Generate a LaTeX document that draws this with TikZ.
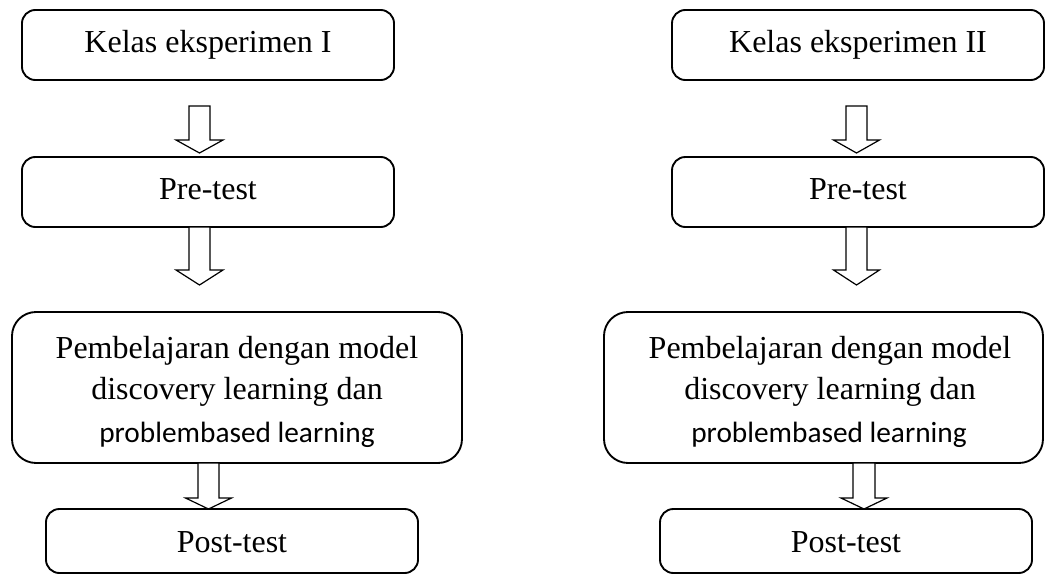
\documentclass[tikz,border=0pt]{standalone}
\usepackage{fontspec}
\setmainfont{Liberation Serif}
\newfontfamily\calib{Carlito}
\begin{document}
\begin{tikzpicture}[x=0.75pt,y=-0.75pt,
  box/.style={draw=black,line width=1.4pt,rounded corners=10pt,inner sep=0pt,outer sep=0pt},
  bigbox/.style={box,rounded corners=18pt},
  lbl/.style={anchor=base,inner sep=0pt,font=\fontsize{24pt}{28pt}\selectfont},
  lblc/.style={anchor=base,inner sep=0pt,font=\calib\fontsize{22pt}{26pt}\selectfont},
  barrow/.style={draw=black,line width=0.9pt,fill=white,line join=miter}]
\useasboundingbox (0,0) rectangle (1046,575);
\newcommand{\blockarrow}[6]{%
  \draw[barrow] ({#1-#5},#2) -- ({#1-#5},#3) -- ({#1-#6},#3) -- (#1,#4)
    -- ({#1+#6},#3) -- ({#1+#5},#3) -- ({#1+#5},#2) -- cycle;}
% left column boxes
\node[box,minimum width=372*0.75pt,minimum height=70*0.75pt] (b1l) at (208,45) {};
\node[box,minimum width=372*0.75pt,minimum height=70*0.75pt] (b2l) at (208,192) {};
\node[bigbox,minimum width=450*0.75pt,minimum height=151*0.75pt] (b3l) at (237,387.5) {};
\node[box,minimum width=372*0.75pt,minimum height=64*0.75pt] (b4l) at (232,541) {};
% right column boxes
\node[box,minimum width=372*0.75pt,minimum height=70*0.75pt] (b1r) at (858,45) {};
\node[box,minimum width=372*0.75pt,minimum height=70*0.75pt] (b2r) at (858,192) {};
\node[bigbox,minimum width=439*0.75pt,minimum height=151*0.75pt] (b3r) at (823.5,387.5) {};
\node[box,minimum width=372*0.75pt,minimum height=64*0.75pt] (b4r) at (846,541) {};
% arrows
\blockarrow{199.5}{106}{140}{153}{10.5}{23.5}
\blockarrow{199.5}{227}{270}{285}{10.5}{23.5}
\blockarrow{208.5}{463}{498}{509}{10.5}{23}
\blockarrow{856.5}{106}{140}{153}{10.5}{23}
\blockarrow{856.5}{227}{270}{285}{10.5}{23}
\blockarrow{864}{463}{498}{509}{11}{23}
% texts left
\node[lbl] (t1l) at (208,52) {Kelas eksperimen I};
\node[lbl] (t2l) at (208,199) {Pre-test};
\node[lbl] (t3al) at (237,358) {Pembelajaran dengan model};
\node[lbl] (t3bl) at (237,399) {discovery learning dan};
\node[lblc] (t3cl) at (237,442) {problembased learning};
\node[lbl] (t4l) at (232,552) {Post-test};
% texts right
\node[lbl] (t1r) at (858,52) {Kelas eksperimen II};
\node[lbl] (t2r) at (858,199) {Pre-test};
\node[lbl] (t3ar) at (830,358) {Pembelajaran dengan model};
\node[lbl] (t3br) at (830,399) {discovery learning dan};
\node[lblc] (t3cr) at (829,442) {problembased learning};
\node[lbl] (t4r) at (846,552) {Post-test};
\end{tikzpicture}
\end{document}
